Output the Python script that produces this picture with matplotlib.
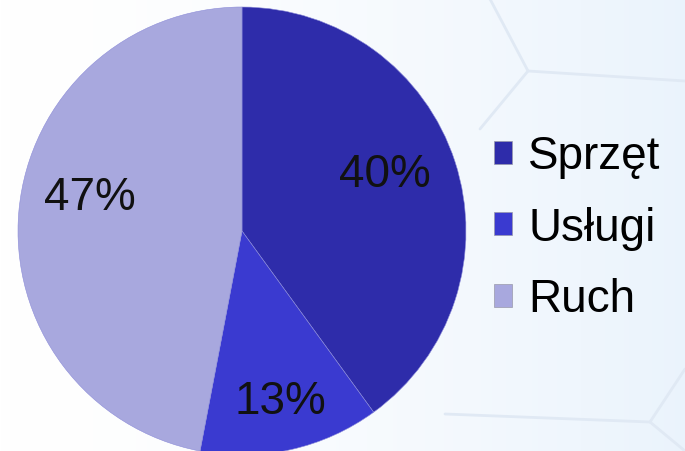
"""Pie chart: Sprzęt / Usługi / Ruch share."""

import matplotlib
matplotlib.use("Agg")
import matplotlib.pyplot as plt
import numpy as np
from matplotlib.patches import Patch

labels = ["Sprzęt", "Usługi", "Ruch"]
shares = [40, 13, 47]
colors = ["#2E2CAA", "#3A3AD0", "#A8A8DE"]

W, H = 685, 452
plt.rcParams["font.family"] = ["Liberation Sans", "DejaVu Sans"]

fig = plt.figure(figsize=(W / 100, H / 100), dpi=100)
ax = fig.add_axes([0, 0, 1, 1])

# soft background gradient (white -> pale blue to the right)
grad = np.linspace(0, 1, 256) ** 1.5
bg = np.ones((2, 256, 3))
bg[..., 0] = 1 - 0.08 * grad
bg[..., 1] = 1 - 0.045 * grad
bg[..., 2] = 1 - 0.01 * grad
ax.imshow(bg, extent=[0, W, 0, H], aspect="auto", zorder=0)

# faint hexagon outlines in the background (pixel coords, y down)
hex_lines = [
    ([490, 528, 685], [0, 72, 82]),
    ([528, 480], [72, 130]),
    ([445, 650, 685], [415, 423, 370]),
    ([650, 685], [423, 452]),
]
for xs, ys in hex_lines:
    ax.plot(xs, [H - y for y in ys], color="#E0E9F4", lw=2.0, zorder=0.5,
            solid_capstyle="round")

ax.pie(
    shares, colors=colors, startangle=90, counterclock=False,
    center=(242, H - 232), radius=224, frame=True,
    wedgeprops=dict(edgecolor="#8C8CD8", linewidth=0.4),
)
ax.set_xlim(0, W)
ax.set_ylim(0, H)
ax.set_aspect("equal")
ax.axis("off")

label_pos = [(385, 175), (280, 402), (90, 198)]
for share, (x, y) in zip(shares, label_pos):
    ax.text(x, H - y, f"{share}%", fontsize=33, ha="center", va="center",
            color="#111111")

handles = [Patch(facecolor=c, edgecolor="#9999AA", linewidth=0.5) for c in colors]
ax.legend(handles, labels, loc="center left",
          bbox_to_anchor=(494 / W, 1 - 229 / H), frameon=False,
          fontsize=33, handlelength=0.4, handleheight=0.4,
          handletextpad=0.35, labelspacing=0.6, borderpad=0,
          borderaxespad=0)

fig.savefig("out.png", dpi=100)
